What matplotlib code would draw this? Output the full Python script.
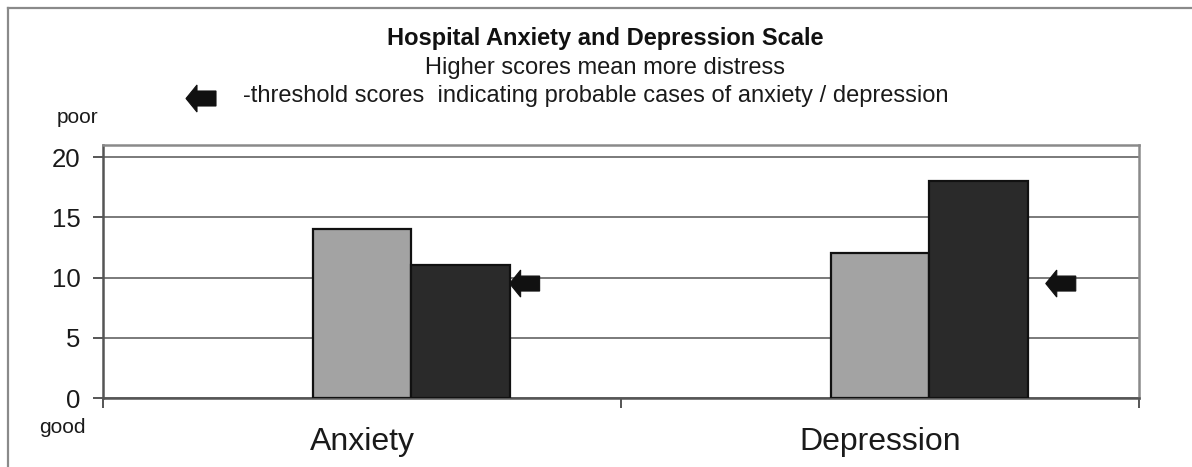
import matplotlib
matplotlib.use("Agg")
import matplotlib.pyplot as plt
from matplotlib.patches import Polygon
from matplotlib.lines import Line2D
import matplotlib.transforms as mtransforms

plt.rcParams['font.family'] = ['Liberation Sans', 'DejaVu Sans']

# Data
categories = ["Anxiety", "Depression"]
series_names = ["(empty)", "Group A", "Group B"]
group_a = [14, 12]
group_b = [11, 18]
threshold_marks = [9.5, 9.5]
yticks = [0, 5, 10, 15, 20]

W, H = 1192, 467
fig = plt.figure(figsize=(W / 100, H / 100), dpi=100)
fig.patch.set_facecolor("white")

ax = fig.add_axes([103 / W, 1 - 398 / H, (1139 - 103) / W, (398 - 145) / H])
x = list(range(len(categories)))
bw = 0.19

ax.bar([i for i in x], group_a, width=bw, color="#a3a3a3", edgecolor="#111111",
       linewidth=1.6, zorder=3)
ax.bar([i + bw for i in x], group_b, width=bw, color="#2a2a2a", edgecolor="#111111",
       linewidth=1.6, zorder=3)

ax.set_xlim(-0.5, 1.5)
ax.set_ylim(0, 21)
ax.set_yticks(yticks)
ax.set_yticklabels([str(v) for v in yticks], fontsize=18.5, color="#1a1a1a")
ax.yaxis.grid(True, color="#7a7a7a", linewidth=1.4, zorder=0)
ax.set_axisbelow(True)

# category boundaries as major ticks, names on minor ticks at centres
ax.set_xticks([-0.5, 0.5, 1.5])
ax.set_xticklabels(["", "", ""])
ax.set_xticks(x, minor=True)
ax.set_xticklabels(categories, minor=True, fontsize=23, color="#1a1a1a")
ax.tick_params(axis="x", which="major", length=7, width=1.4, color="#555555")
ax.tick_params(axis="x", which="minor", length=0, pad=21)
ax.tick_params(axis="y", length=7, width=1.4, color="#555555", pad=9)

for side in ("top", "right"):
    ax.spines[side].set_color("#8a8a8a")
    ax.spines[side].set_linewidth(1.8)
for side in ("left", "bottom"):
    ax.spines[side].set_color("#555555")
    ax.spines[side].set_linewidth(1.8)

# left-pointing block arrow, vertices in pixels relative to the tip
arrow_px = [(0, 0), (11, 13.5), (11, 7.5), (30, 7.5), (30, -7.5), (11, -7.5), (11, -13.5)]
arrow_in = [(px / 100, py / 100) for px, py in arrow_px]


def block_arrow(xpos, ypos, base):
    tr = fig.dpi_scale_trans + mtransforms.ScaledTranslation(xpos, ypos, base)
    p = Polygon(arrow_in, closed=True, facecolor="#111111", edgecolor="#111111",
                linewidth=0.8, transform=tr, clip_on=False, zorder=5)
    fig.add_artist(p) if base is fig.transFigure else ax.add_patch(p)


arrow_x = [bw * 1.5, 1.32]
for xa, ya in zip(arrow_x, threshold_marks):
    block_arrow(xa, ya, ax.transData)

# legend arrow beside the explanatory line
block_arrow(186 / W, 1 - 98.5 / H, fig.transFigure)

# titles
fig.text(605 / W, 1 - 45 / H, "Hospital Anxiety and Depression Scale", ha="center",
         va="baseline", fontsize=17, fontweight="bold", color="#111111")
fig.text(605 / W, 1 - 74 / H, "Higher scores mean more distress", ha="center",
         va="baseline", fontsize=17, color="#1a1a1a")
fig.text(243 / W, 1 - 102 / H,
         "-threshold scores  indicating probable cases of anxiety / depression",
         ha="left", va="baseline", fontsize=17, color="#1a1a1a")
fig.text(57 / W, 1 - 123 / H, "poor", ha="left", va="baseline", fontsize=15,
         color="#1a1a1a")
fig.text(39 / W, 1 - 433 / H, "good", ha="left", va="baseline", fontsize=15,
         color="#1a1a1a")

# outer frame (left and top edges)
fx, fy = 8 / W, 1 - 8 / H
fig.add_artist(Line2D([fx, fx], [0, fy], transform=fig.transFigure,
                      color="#8a8a8a", linewidth=1.6))
fig.add_artist(Line2D([fx, 1], [fy, fy], transform=fig.transFigure,
                      color="#8a8a8a", linewidth=1.6))

fig.savefig("out.png", dpi=100, facecolor="white")
